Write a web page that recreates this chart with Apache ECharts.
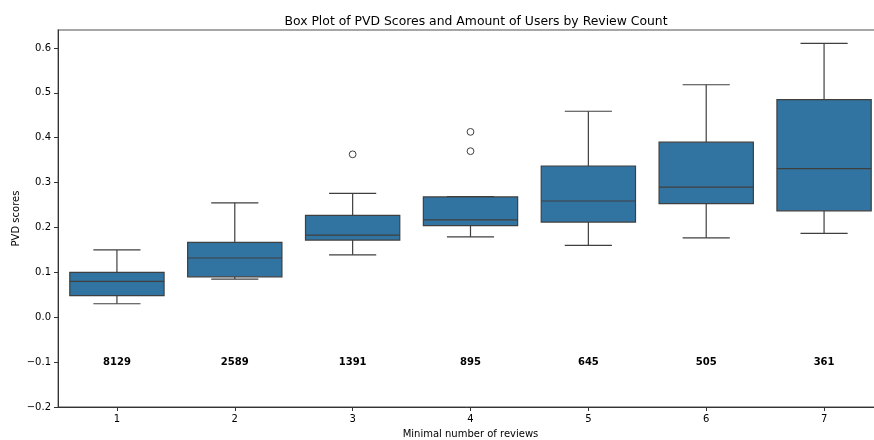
<!DOCTYPE html>
<html>
<head>
<meta charset="utf-8">
<script src="https://cdn.jsdelivr.net/npm/echarts@6/dist/echarts.min.js"></script>
<style>
  html, body { margin: 0; padding: 0; background: #fff; }
  #chart { width: 874px; height: 440px; }
</style>
</head>
<body>
<div id="chart"></div>
<script>
// Minimal number of reviews per group
const categories = ['1', '2', '3', '4', '5', '6', '7'];
// Box statistics of PVD scores per group
const whiskerLow  = [0.030, 0.085, 0.139, 0.179, 0.160, 0.177, 0.187];
const quartile1   = [0.048, 0.090, 0.172, 0.204, 0.212, 0.253, 0.237];
const medians     = [0.080, 0.132, 0.183, 0.217, 0.259, 0.290, 0.331];
const quartile3   = [0.100, 0.167, 0.227, 0.268, 0.337, 0.390, 0.485];
const whiskerHigh = [0.150, 0.255, 0.276, 0.269, 0.459, 0.518, 0.610];
// Outlying scores: [category index, value]
const outliers = [[2, 0.363], [3, 0.413], [3, 0.370]];
// Number of users in each group
const userCounts = [8129, 2589, 1391, 895, 645, 505, 361];
// Y-axis tick values
const yTicks = [-0.2, -0.1, 0.0, 0.1, 0.2, 0.3, 0.4, 0.5, 0.6];

const COUNT_LABEL_Y = -0.1;
const BOX_FILL = '#3274a1';
const EDGE = '#3f3f3f';
const FONT = 'DejaVu Sans';

const boxData = categories.map((c, i) => [i, whiskerLow[i], quartile1[i], medians[i], quartile3[i], whiskerHigh[i]]);
const countData = categories.map((c, i) => [i, userCounts[i]]);

function renderBox(params, api) {
  const i = api.value(0);
  const band = api.size([1, 0])[0];
  const boxW = band * 0.8;
  const capW = band * 0.4;
  const cx = api.coord([i, 0])[0];
  const y = v => api.coord([i, v])[1];
  const lo = y(api.value(1)), q1 = y(api.value(2)), md = y(api.value(3)),
        q3 = y(api.value(4)), hi = y(api.value(5));
  const line = (x1, y1, x2, y2) => ({
    type: 'line', shape: { x1, y1, x2, y2 },
    style: { stroke: EDGE, lineWidth: 1.2 }
  });
  return {
    type: 'group',
    children: [
      line(cx, q3, cx, hi),
      line(cx, q1, cx, lo),
      line(cx - capW / 2, hi, cx + capW / 2, hi),
      line(cx - capW / 2, lo, cx + capW / 2, lo),
      {
        type: 'rect',
        shape: { x: cx - boxW / 2, y: q3, width: boxW, height: q1 - q3 },
        style: { fill: BOX_FILL, stroke: EDGE, lineWidth: 1.2 }
      },
      line(cx - boxW / 2, md, cx + boxW / 2, md)
    ]
  };
}

function renderOutlier(params, api) {
  const p = api.coord([api.value(0), api.value(1)]);
  return {
    type: 'circle',
    shape: { cx: p[0], cy: p[1], r: 3.4 },
    style: { fill: 'none', stroke: EDGE, lineWidth: 1 }
  };
}

function renderCount(params, api) {
  const p = api.coord([api.value(0), COUNT_LABEL_Y]);
  return {
    type: 'text',
    x: p[0], y: p[1],
    style: {
      text: String(api.value(1)),
      fontFamily: FONT, fontSize: 10, fontWeight: 'bold', fill: '#000',
      align: 'center', verticalAlign: 'middle'
    }
  };
}

const chart = echarts.init(document.getElementById('chart'), null, { renderer: 'canvas' });
chart.setOption({
  animation: false,
  backgroundColor: '#fff',
  title: {
    text: 'Box Plot of PVD Scores and Amount of Users by Review Count',
    left: 471, top: 11, textAlign: 'center',
    textStyle: { fontFamily: FONT, fontSize: 12.4, fontWeight: 'normal', color: '#000' }
  },
  grid: {
    left: 58, top: 30, width: 825, height: 377,
    outerBoundsMode: 'none',
    containLabel: false,
    show: true, borderColor: '#8a8a8a', borderWidth: 1.3, backgroundColor: 'transparent'
  },
  xAxis: {
    type: 'category',
    data: categories,
    boundaryGap: true,
    name: 'Minimal number of reviews',
    nameLocation: 'middle',
    nameGap: 22,
    nameMoveOverlap: false,
    nameTextStyle: { fontFamily: FONT, fontSize: 10, color: '#000' },
    axisLine: { show: true, onZero: false, lineStyle: { color: '#333', width: 1 } },
    axisTick: { show: true, alignWithLabel: true, length: 4, lineStyle: { color: '#333' } },
    axisLabel: { fontFamily: FONT, fontSize: 10, color: '#000', margin: 7 },
    splitLine: { show: false }
  },
  yAxis: {
    type: 'value',
    min: -0.2, max: 0.64, interval: 0.1,
    name: 'PVD scores',
    nameLocation: 'middle',
    nameGap: 37,
    nameMoveOverlap: false,
    nameTextStyle: { fontFamily: FONT, fontSize: 10, color: '#000' },
    axisLine: { show: true, onZero: false, lineStyle: { color: '#333', width: 1 } },
    axisTick: { show: true, length: 4, customValues: yTicks, lineStyle: { color: '#333' } },
    axisLabel: {
      fontFamily: FONT, fontSize: 10, color: '#000', margin: 7,
      customValues: yTicks,
      formatter: v => v.toFixed(1).replace('-', '\u2212')
    },
    splitLine: { show: false }
  },
  series: [
    { type: 'custom', renderItem: renderBox, data: boxData, encode: { x: 0, y: [1, 2, 3, 4, 5] }, z: 2 },
    { type: 'custom', renderItem: renderOutlier, data: outliers, encode: { x: 0, y: 1 }, z: 3 },
    { type: 'custom', renderItem: renderCount, data: countData, encode: { x: 0 }, z: 4 }
  ]
});
</script>
</body>
</html>
